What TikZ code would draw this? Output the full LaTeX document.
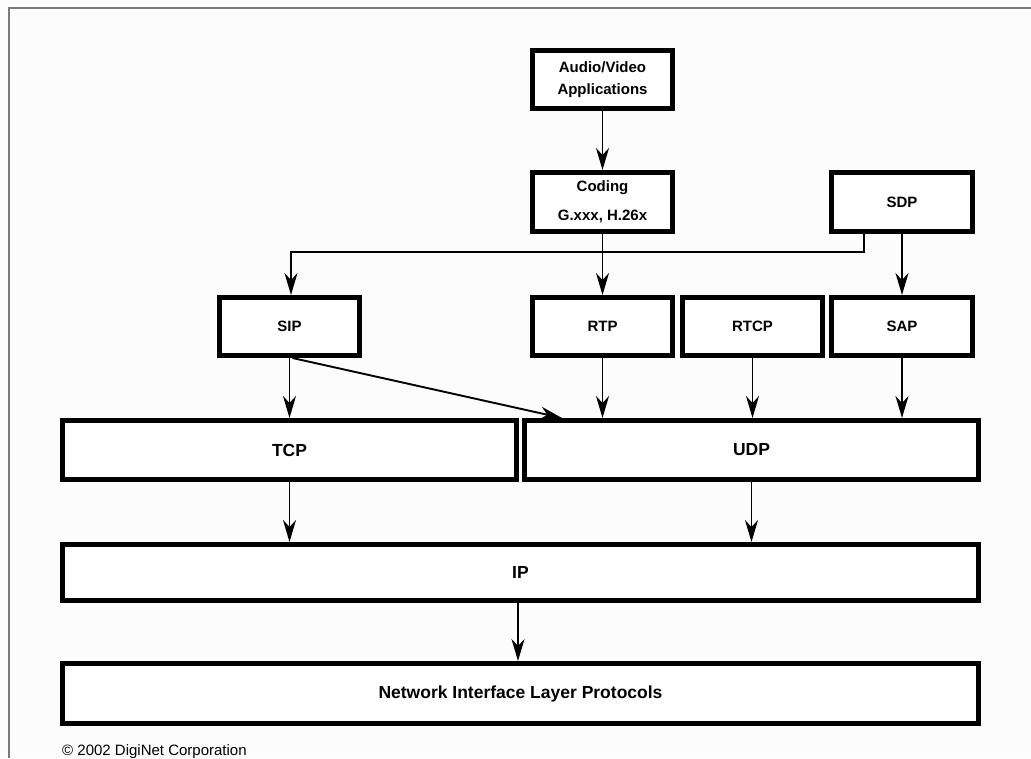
\documentclass[tikz,border=0pt]{standalone}
\usepackage{fontspec}
\setmainfont{Liberation Sans}
\usetikzlibrary{arrows.meta}
\definecolor{bg}{HTML}{FCFCFC}
\definecolor{frame}{HTML}{7A7A7A}
\begin{document}
\begin{tikzpicture}[x=1pt,y=-1pt,
  box/.style={draw=black,line width=5pt,fill=white,inner sep=0pt,
    font=\fontsize{15}{22}\selectfont\bfseries,align=center},
  bigbox/.style={box,font=\fontsize{17.5}{22}\selectfont\bfseries},
  conn/.style={line width=1.9pt,-{Stealth[length=22pt,width=13pt,inset=7pt]}},
  thinconn/.style={line width=1.3pt,-{Stealth[length=22pt,width=13pt,inset=7pt]}}]
\useasboundingbox[fill=bg] (0,0) rectangle (1031,758);
\draw[frame,line width=1.5pt] (1031,8) -- (9,8) -- (9,758);
% boxes (outer edges in px, minimum sizes exclude the 5pt line)
\node[box,minimum width=140,minimum height=58] (av) at (602.5,79.5) {Audio/Video\\Applications};
\node[box,minimum width=140,minimum height=59] (cod) at (602.5,202) {Coding\\[7pt]G.xxx, H.26x};
\node[box,minimum width=141,minimum height=59] (sdp) at (902,202) {SDP};
\node[box,minimum width=140,minimum height=58] (sip) at (289.5,326.5) {SIP};
\node[box,minimum width=140,minimum height=58] (rtp) at (602.5,326.5) {RTP};
\node[box,minimum width=140,minimum height=58] (rtcp) at (752.5,326.5) {RTCP};
\node[box,minimum width=141,minimum height=58] (sap) at (902,326.5) {SAP};
\node[bigbox,minimum width=454,minimum height=59] (tcp) at (289.5,450) {TCP};
\node[bigbox,minimum width=454,minimum height=59] (udp) at (751.5,450) {UDP};
\node[bigbox,minimum width=916,minimum height=56] (ip) at (520.5,572.5) {IP};
\node[bigbox,minimum width=916,minimum height=60] (nil) at (520.5,693.5) {Network Interface Layer Protocols};
\node[anchor=base west,inner sep=0pt,font=\fontsize{15}{18}\selectfont] (copy) at (62,755) {© 2002 DigiNet Corporation};
% connectors
\coordinate (bus) at (864,252);
\draw[conn] (av) -- (cod);
\draw[conn] (cod) -- (rtp);
\draw[conn] (sdp.south -| bus) -- (bus) -| ([xshift=1.5pt]sip.north);
\draw[conn] (sdp) -- (sap);
\draw[conn] (sip) -- (tcp.north -| sip);
\draw[conn] ([xshift=3pt]sip.south) -- ([xshift=40pt]udp.north west);
\draw[conn] (rtp) -- (udp.north -| rtp);
\draw[conn] (rtcp) -- (udp.north -| rtcp);
\draw[conn] (sap) -- (udp.north -| sap);
\draw[conn] (tcp) -- (ip.north -| tcp);
\draw[conn] (udp) -- (ip.north -| udp);
\draw[thinconn] ([xshift=-2.5pt]ip.south) -- ([xshift=-2.5pt]nil.north);
\end{tikzpicture}
\end{document}
